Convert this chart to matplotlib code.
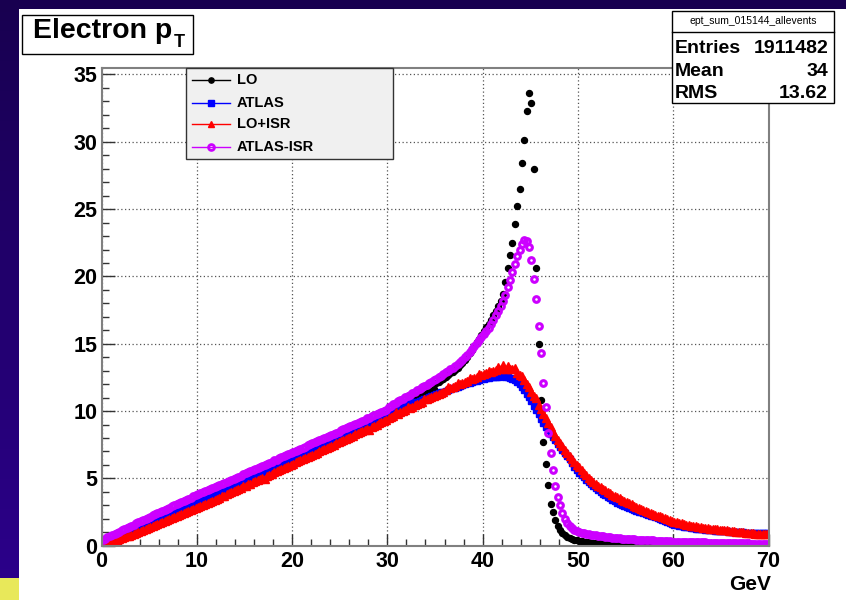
import numpy as np
import matplotlib.pyplot as plt
from matplotlib.lines import Line2D
from matplotlib.patches import Rectangle

plt.rcParams['font.family'] = ['Liberation Sans', 'DejaVu Sans']
plt.rcParams['font.weight'] = 'bold'

# binning of the histograms (GeV)
n_bins = 280
x_lo, x_hi = 0.0, 70.0

series_names = ["LO", "ATLAS", "LO+ISR", "ATLAS-ISR"]

# LO
lo = [
    0.08, 0.15, 0.23, 0.31, 0.39, 0.47, 0.55, 0.62, 0.7, 0.78, 0.86, 0.94, 1.02, 1.1, 1.17, 1.25, 1.33, 1.41, 1.49, 1.57,
    1.64, 1.72, 1.8, 1.88, 1.96, 2.04, 2.12, 2.2, 2.28, 2.36, 2.44, 2.52, 2.6, 2.68, 2.76, 2.84, 2.92, 3.0, 3.08, 3.16,
    3.24, 3.32, 3.4, 3.48, 3.56, 3.64, 3.72, 3.8, 3.88, 3.96, 4.04, 4.12, 4.2, 4.28, 4.36, 4.44, 4.52, 4.6, 4.68, 4.76,
    4.84, 4.92, 5.0, 5.08, 5.16, 5.25, 5.33, 5.41, 5.5, 5.58, 5.66, 5.74, 5.82, 5.9, 5.98, 6.07, 6.15, 6.24, 6.32, 6.4,
    6.48, 6.56, 6.65, 6.73, 6.82, 6.9, 6.98, 7.07, 7.15, 7.24, 7.32, 7.4, 7.49, 7.57, 7.66, 7.74, 7.82, 7.91, 8.0, 8.08,
    8.16, 8.25, 8.33, 8.42, 8.5, 8.59, 8.67, 8.76, 8.84, 8.93, 9.02, 9.1, 9.19, 9.27, 9.36, 9.45, 9.53, 9.62, 9.71, 9.8,
    9.88, 9.97, 10.06, 10.15, 10.24, 10.33, 10.42, 10.51, 10.6, 10.69, 10.78, 10.87, 10.96, 11.05, 11.14, 11.23, 11.32, 11.42, 11.52, 11.62,
    12.05, 12.16, 12.28, 12.41, 12.55, 12.68, 12.8, 12.93, 13.07, 13.23, 13.4, 13.58, 13.8, 14.05, 14.3, 14.56, 14.82, 15.1, 15.38, 15.68,
    15.95, 16.22, 16.5, 16.8, 17.1, 17.45, 17.8, 18.2, 18.7, 19.6, 20.6, 21.6, 22.5, 23.9, 25.2, 26.5, 28.4, 30.1, 32.3, 33.6,
    32.9, 28.0, 20.6, 15.0, 10.8, 7.7, 6.1, 4.5, 3.1, 2.5, 1.9, 1.5, 1.2, 0.95, 0.8, 0.68, 0.58, 0.5, 0.44, 0.39,
    0.35, 0.32, 0.29, 0.27, 0.25, 0.23, 0.21, 0.2, 0.19, 0.18, 0.17, 0.16, 0.15, 0.14, 0.13, 0.12, 0.12, 0.11, 0.11, 0.1,
    0.1, 0.1, 0.09, 0.09, 0.09, 0.08, 0.08, 0.08, 0.08, 0.07, 0.07, 0.07, 0.07, 0.06, 0.06, 0.06, 0.06, 0.06, 0.05, 0.05,
    0.05, 0.05, 0.05, 0.05, 0.04, 0.04, 0.04, 0.04, 0.04, 0.04, 0.04, 0.03, 0.03, 0.03, 0.03, 0.03, 0.03, 0.03, 0.03, 0.03,
    0.03, 0.03, 0.02, 0.02, 0.02, 0.02, 0.02, 0.02, 0.02, 0.02, 0.02, 0.02, 0.02, 0.02, 0.02, 0.02, 0.02, 0.02, 0.02, 0.02,
]

# ATLAS
atlas = [
    0.12, 0.2, 0.28, 0.36, 0.44, 0.52, 0.6, 0.68, 0.76, 0.84, 0.92, 1.0, 1.08, 1.16, 1.24, 1.32, 1.4, 1.48, 1.56, 1.64,
    1.72, 1.8, 1.88, 1.96, 2.04, 2.12, 2.2, 2.28, 2.36, 2.44, 2.52, 2.6, 2.68, 2.76, 2.84, 2.92, 3.0, 3.08, 3.16, 3.24,
    3.32, 3.4, 3.48, 3.56, 3.64, 3.72, 3.8, 3.88, 3.96, 4.04, 4.12, 4.2, 4.28, 4.36, 4.44, 4.52, 4.6, 4.68, 4.76, 4.84,
    4.92, 5.0, 5.08, 5.16, 5.25, 5.33, 5.41, 5.5, 5.58, 5.66, 5.74, 5.82, 5.9, 5.98, 6.07, 6.15, 6.23, 6.32, 6.4, 6.48,
    6.56, 6.64, 6.73, 6.81, 6.9, 6.98, 7.06, 7.15, 7.23, 7.32, 7.4, 7.48, 7.57, 7.65, 7.74, 7.82, 7.9, 7.99, 8.07, 8.15,
    8.23, 8.31, 8.39, 8.48, 8.56, 8.64, 8.72, 8.8, 8.88, 8.97, 9.05, 9.13, 9.21, 9.29, 9.37, 9.45, 9.53, 9.61, 9.69, 9.77,
    9.85, 9.92, 10.0, 10.07, 10.14, 10.22, 10.29, 10.36, 10.43, 10.5, 10.57, 10.64, 10.71, 10.78, 10.85, 10.92, 10.99, 11.06, 11.13, 11.2,
    11.27, 11.33, 11.39, 11.45, 11.51, 11.57, 11.63, 11.69, 11.75, 11.81, 11.87, 11.93, 11.99, 12.05, 12.11, 12.17, 12.22, 12.27, 12.32, 12.37,
    12.41, 12.45, 12.48, 12.51, 12.53, 12.55, 12.56, 12.57, 12.57, 12.55, 12.52, 12.47, 12.4, 12.3, 12.15, 11.98, 11.78, 11.56, 11.3, 11.02,
    10.72, 10.4, 10.08, 9.76, 9.44, 9.13, 8.85, 8.58, 8.32, 8.06, 7.82, 7.58, 7.35, 7.12, 6.9, 6.65, 6.42, 6.15, 5.88, 5.62,
    5.42, 5.25, 5.08, 4.9, 4.73, 4.56, 4.4, 4.25, 4.12, 3.99, 3.87, 3.75, 3.63, 3.51, 3.4, 3.29, 3.2, 3.11, 3.03, 2.95,
    2.87, 2.8, 2.73, 2.66, 2.6, 2.54, 2.48, 2.42, 2.36, 2.3, 2.24, 2.17, 2.1, 2.03, 1.96, 1.89, 1.82, 1.75, 1.68, 1.61,
    1.56, 1.52, 1.48, 1.45, 1.42, 1.39, 1.36, 1.33, 1.3, 1.27, 1.25, 1.23, 1.21, 1.19, 1.17, 1.15, 1.13, 1.11, 1.1, 1.09,
    1.08, 1.07, 1.06, 1.05, 1.04, 1.03, 1.02, 1.01, 1.0, 0.99, 0.98, 0.97, 0.97, 0.96, 0.96, 0.95, 0.95, 0.94, 0.94, 0.93,
]

# LO+ISR
lo_isr = [
    0.05, 0.1, 0.17, 0.22, 0.3, 0.35, 0.42, 0.5, 0.55, 0.62, 0.7, 0.75, 0.83, 0.9, 0.95, 1.05, 1.1, 1.15, 1.25, 1.3,
    1.4, 1.47, 1.55, 1.62, 1.7, 1.77, 1.84, 1.92, 1.98, 2.06, 2.12, 2.2, 2.27, 2.34, 2.42, 2.48, 2.56, 2.62, 2.7, 2.78,
    2.84, 2.92, 3.0, 3.08, 3.18, 3.24, 3.33, 3.4, 3.5, 3.56, 3.66, 3.72, 3.82, 3.9, 3.98, 4.06, 4.14, 4.22, 4.3, 4.4,
    4.46, 4.55, 4.62, 4.72, 4.78, 4.88, 4.95, 5.04, 4.98, 5.2, 5.27, 5.36, 5.44, 5.52, 5.6, 5.68, 5.76, 5.84, 5.94, 6.02,
    6.1, 6.18, 6.26, 6.35, 6.42, 6.52, 6.58, 6.68, 6.76, 6.84, 6.92, 7.0, 7.1, 7.16, 7.26, 7.34, 7.42, 7.5, 7.6, 7.67,
    7.76, 7.84, 7.92, 8.0, 8.1, 8.17, 8.26, 8.34, 8.42, 8.5, 8.6, 8.67, 8.6, 8.84, 8.92, 9.0, 9.1, 9.18, 9.26, 9.35,
    9.45, 9.54, 9.63, 9.9, 9.8, 9.9, 9.98, 10.07, 10.3, 10.25, 10.33, 10.42, 10.5, 10.6, 10.68, 10.9, 10.86, 10.95, 11.03, 11.12,
    11.2, 11.28, 11.36, 11.45, 11.53, 11.8, 11.69, 11.77, 11.85, 12.1, 12.0, 12.08, 12.15, 12.23, 12.45, 12.38, 12.45, 12.52, 12.75, 12.68,
    12.75, 12.8, 12.95, 12.92, 12.97, 13.02, 13.25, 13.1, 13.4, 13.15, 13.35, 13.13, 13.1, 13.2, 12.85, 12.7, 12.6, 12.28, 12.03, 11.78,
    11.45, 11.12, 10.95, 10.48, 10.15, 9.8, 9.45, 9.1, 8.78, 8.45, 8.15, 7.88, 7.62, 7.38, 7.14, 6.9, 6.67, 6.44, 6.22, 6.02,
    5.82, 5.62, 5.42, 5.24, 5.06, 4.9, 4.74, 4.6, 4.47, 4.35, 4.23, 4.12, 4.01, 3.9, 3.8, 3.7, 3.6, 3.51, 3.43, 3.35,
    3.25, 3.16, 3.07, 2.98, 2.9, 2.82, 2.74, 2.66, 2.59, 2.52, 2.45, 2.38, 2.31, 2.24, 2.17, 2.1, 2.03, 1.96, 1.9, 1.84,
    1.79, 1.74, 1.69, 1.65, 1.61, 1.57, 1.53, 1.49, 1.46, 1.43, 1.4, 1.37, 1.34, 1.31, 1.29, 1.27, 1.25, 1.23, 1.21, 1.19,
    1.17, 1.15, 1.13, 1.11, 1.09, 1.07, 1.05, 1.03, 1.01, 0.99, 0.97, 0.95, 0.93, 0.91, 0.9, 0.88, 0.87, 0.86, 0.85, 0.84,
]

# ATLAS-ISR
atlas_isr = [
    0.45, 0.53, 0.62, 0.7, 0.8, 0.88, 0.97, 1.05, 1.14, 1.22, 1.31, 1.4, 1.48, 1.57, 1.65, 1.74, 1.83, 1.91, 2.0, 2.08,
    2.16, 2.25, 2.33, 2.42, 2.5, 2.58, 2.68, 2.75, 2.83, 2.93, 3.0, 3.08, 3.17, 3.25, 3.33, 3.42, 3.5, 3.58, 3.66, 3.75,
    3.85, 3.92, 4.0, 4.06, 4.15, 4.22, 4.3, 4.38, 4.45, 4.52, 4.6, 4.68, 4.76, 4.83, 4.9, 4.98, 5.06, 5.13, 5.2, 5.3,
    5.38, 5.45, 5.53, 5.6, 5.7, 5.76, 5.85, 5.92, 6.0, 6.1, 6.16, 6.24, 6.33, 6.4, 6.48, 6.56, 6.63, 6.72, 6.8, 6.88,
    6.97, 7.05, 7.12, 7.2, 7.28, 7.36, 7.45, 7.52, 7.6, 7.68, 7.76, 7.84, 7.92, 8.0, 8.08, 8.16, 8.24, 8.32, 8.4, 8.48,
    8.56, 8.64, 8.72, 8.8, 8.88, 8.96, 9.05, 9.12, 9.2, 9.28, 9.36, 9.45, 9.52, 9.6, 9.68, 9.76, 9.84, 9.92, 10.0, 10.1,
    10.3, 10.4, 10.5, 10.62, 10.72, 10.82, 10.92, 11.02, 11.12, 11.22, 11.35, 11.45, 11.55, 11.65, 11.76, 11.86, 11.96, 12.06, 12.18, 12.3,
    12.4, 12.5, 12.62, 12.75, 12.88, 13.0, 13.1, 13.22, 13.35, 13.5, 13.65, 13.8, 13.98, 14.2, 14.4, 14.62, 14.85, 15.05, 15.28, 15.5,
    15.72, 15.95, 16.2, 16.48, 16.78, 17.1, 17.45, 17.82, 18.2, 18.65, 19.2, 19.75, 20.3, 20.9, 21.5, 22.0, 22.4, 22.7, 22.65, 22.2,
    21.2, 19.8, 18.3, 16.3, 14.3, 12.1, 10.3, 8.4, 6.9, 5.6, 4.4, 3.6, 3.0, 2.45, 2.0, 1.7, 1.45, 1.3, 1.18, 1.08,
    1.02, 0.98, 0.94, 0.9, 0.86, 0.83, 0.8, 0.77, 0.74, 0.71, 0.69, 0.66, 0.64, 0.62, 0.6, 0.58, 0.56, 0.55, 0.53, 0.52,
    0.5, 0.49, 0.48, 0.47, 0.46, 0.45, 0.44, 0.43, 0.42, 0.41, 0.4, 0.39, 0.38, 0.37, 0.36, 0.35, 0.34, 0.33, 0.32, 0.31,
    0.3, 0.3, 0.29, 0.29, 0.28, 0.28, 0.27, 0.27, 0.26, 0.26, 0.25, 0.25, 0.24, 0.24, 0.23, 0.23, 0.22, 0.22, 0.21, 0.21,
    0.2, 0.2, 0.2, 0.19, 0.19, 0.19, 0.18, 0.18, 0.18, 0.17, 0.17, 0.17, 0.16, 0.16, 0.16, 0.15, 0.15, 0.15, 0.14, 0.14,
]

stats_name = "ept_sum_015144_allevents"
stats_rows = [("Entries", "1911482"), ("Mean", "34"), ("RMS", "13.62")]

centers = x_lo + (np.arange(n_bins) + 0.5) * (x_hi - x_lo) / n_bins

W, H = 846, 600


def fx(px):
    return px / W


def fy(py):
    return 1 - py / H


fig = plt.figure(figsize=(W / 100, H / 100), dpi=100, facecolor="white")

# dark slide border (top band + left gradient band + little yellow square)
bg = fig.add_axes([0, 0, 1, 1], zorder=-10)
bg.axis("off")
grad = np.linspace(0, 1, 200)[:, None]
c_top = np.array([24, 0, 80]) / 255
c_bot = np.array([44, 0, 140]) / 255
img = c_top[None, None, :] * (1 - grad[:, :, None]) + c_bot[None, None, :] * grad[:, :, None]
bg.imshow(img, extent=(0, 19, H, 0), aspect="auto")
bg.add_patch(Rectangle((0, 0), W, 9, color=c_top, lw=0))
bg.add_patch(Rectangle((0, 578), 19, 22, color="#e8e85a", lw=0))
bg.set_xlim(0, W)
bg.set_ylim(H, 0)

ax = fig.add_axes([fx(101.5), fy(545.7), (768.5 - 101.5) / W, (545.7 - 68.3) / H])

styles = [
    dict(marker="o", ms=4.3, color="black", mec="black"),
    dict(marker="s", ms=4.0, color="#0000ff", mec="#0000ff"),
    dict(marker="^", ms=5.2, color="#ff0000", mec="#ff0000"),
    dict(marker="o", ms=4.1, mfc="none", mec="#cc00ff", mew=2.2, color="#cc00ff"),
]
for vals, st in zip([lo, atlas, lo_isr, atlas_isr], styles):
    ax.plot(centers, vals, ls="none", **st)

ax.set_xlim(x_lo, x_hi)
ax.set_ylim(0, 35.46)
ax.set_xticks(np.arange(0, 71, 10))
ax.set_xticks(np.arange(0, 71, 2), minor=True)
ax.set_yticks(np.arange(0, 36, 5))
ax.set_yticks(np.arange(0, 36, 1), minor=True)
ax.grid(True, which="major", color="#555555", ls=(0, (1, 2)), lw=0.9)
for sp in ax.spines.values():
    sp.set_color("#808080")
    sp.set_linewidth(1.5)
ax.tick_params(which="both", direction="in", color="#333333", width=1, labelsize=15.5)
ax.tick_params(which="major", length=9)
ax.tick_params(which="minor", length=5)
ax.tick_params(axis="x", pad=4)
ax.tick_params(axis="y", pad=3)

fig.text(fx(771), fy(584), "GeV", ha="right", va="center", fontsize=15, fontweight="bold")

# title box
fig.add_artist(Rectangle((fx(22), fy(54)), (193 - 22) / W, (54 - 15) / H, transform=fig.transFigure,
                         fc="white", ec="black", lw=1))
title = fig.text(fx(33), fy(38.5), "Electron p", fontsize=20.5, fontweight="bold", va="baseline")
fig.canvas.draw()
bb = title.get_window_extent()
fig.text(bb.x1 / W + 0.002, fy(47), "T", fontsize=13, fontweight="bold", va="baseline")

# stats box
fig.add_artist(Rectangle((fx(671.5), fy(102.5)), (834 - 671.5) / W, (102.5 - 11) / H, transform=fig.transFigure,
                         fc="white", ec="black", lw=1))
fig.add_artist(Line2D([fx(671.5), fx(834)], [fy(31.7), fy(31.7)], transform=fig.transFigure, color="black", lw=1))
fig.text(fx(753), fy(21.5), stats_name, ha="center", va="center", fontsize=7.5, fontweight="normal")
for (lab, val), yy in zip(stats_rows, [48.3, 71.0, 93.5]):
    fig.text(fx(675), fy(yy), lab, ha="left", va="center", fontsize=14, fontweight="bold")
    fig.text(fx(828), fy(yy), val, ha="right", va="center", fontsize=14, fontweight="bold")

# legend box
fig.add_artist(Rectangle((fx(185.7), fy(159)), (392.7 - 185.7) / W, (159 - 68.3) / H, transform=fig.transFigure,
                         fc="#f0f0f0", ec="#333333", lw=1, zorder=5))
leg_styles = [
    dict(marker="o", ms=3.8, color="black", mec="black"),
    dict(marker="s", ms=5, color="#0000ff", mec="#0000ff"),
    dict(marker="^", ms=4.4, color="#ff0000", mec="#ff0000"),
    dict(marker="o", ms=4.2, mfc="none", mec="#cc00ff", mew=2.0, color="#cc00ff"),
]
for name, st, yy in zip(series_names, leg_styles, [80, 102.7, 124.3, 147.3]):
    fig.add_artist(Line2D([fx(191.7), fx(230)], [fy(yy), fy(yy)], transform=fig.transFigure,
                          color=st["color"], lw=1, zorder=6))
    fig.add_artist(Line2D([fx(210.7)], [fy(yy)], transform=fig.transFigure, ls="none", zorder=7, **st))
    fig.text(fx(236.7), fy(yy), name, ha="left", va="center", fontsize=10.5, fontweight="bold", zorder=7)

fig.savefig("out.png", dpi=100, facecolor="white")
